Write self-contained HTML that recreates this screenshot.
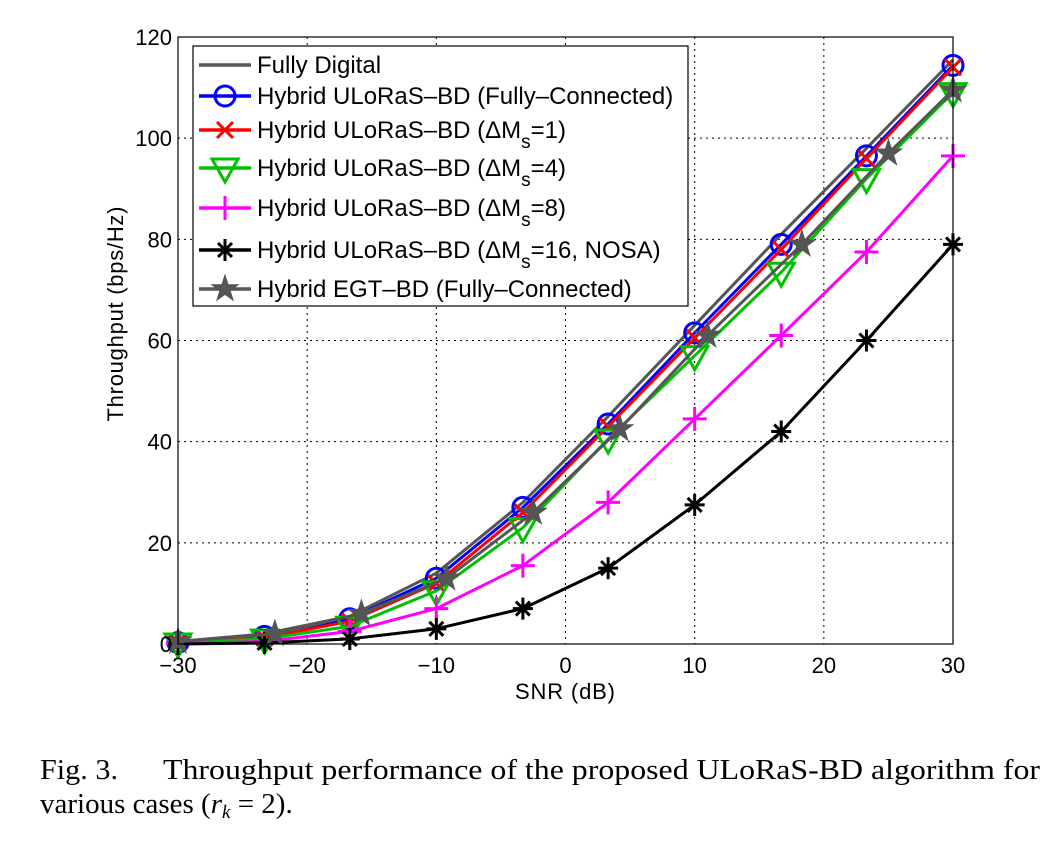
<!DOCTYPE html>
<html><head><meta charset="utf-8"><style>
body{margin:0;background:#fff;width:1054px;height:856px;overflow:hidden}
svg{display:block}
.t{font-family:"Liberation Sans",sans-serif;font-size:22px;fill:#000}
.lg{font-family:"Liberation Sans",sans-serif;font-size:24px;fill:#000}
.cap{font-family:"Liberation Serif",serif;font-size:29px;fill:#000}
</style></head><body>
<svg width="1054" height="856" id="chart" xmlns="http://www.w3.org/2000/svg">
<rect width="1054" height="856" fill="#fff"/>
<g id="grid"></g>
<g id="series"></g>
<rect x="178" y="37" width="775" height="607" fill="none" stroke="#000" stroke-width="1.2"/>
<g id="ticks"></g>
<text class="t" x="565" y="699" text-anchor="middle" font-size="23" textLength="100">SNR (dB)</text>
<text class="t" transform="translate(123,314) rotate(-90)" text-anchor="middle" font-size="23" textLength="215">Throughput (bps/Hz)</text>
<g id="legend"></g>
<text class="cap" x="40" y="779" textLength="78" lengthAdjust="spacingAndGlyphs">Fig. 3.</text>
<text class="cap" x="163" y="779" textLength="877" lengthAdjust="spacingAndGlyphs">Throughput performance of the proposed ULoRaS-BD algorithm for</text>
<text class="cap" x="40" y="813" font-size="28">various cases (<tspan font-style="italic">r</tspan><tspan font-style="italic" font-size="19" dy="5">k</tspan><tspan dy="-5"> = 2).</tspan></text>
</svg>
<script>
const snr=[-30,-23.3,-16.7,-10,-3.3,3.3,10,16.7,23.3,30];
const snrEgt=[-30,-22.5,-15.8,-9.2,-2.5,4.2,11,18.3,25,30];
const fullyDigital=[0.5,2,5.5,14,28,45,63,81,98,115.5];
const hybridFC=[0.3,1.5,5,13,27,43.5,61.5,79,96.5,114.4];
const dm1=[0.3,1.2,4.5,12,26,43,60.5,78,96,114];
const dm4=[0.2,1,3.5,10.5,23,40.5,57,73.5,92,109];
const dm8=[0.1,0.5,2.5,7,15.5,28,44.5,61,77.5,96.5];
const dm16=[0,0.2,1,3,7,15,27.5,42,60,79];
const egt=[0.5,2,6,13,26,42.5,61,79,97,109.5];
const xTicks=[-30,-20,-10,0,10,20,30];
const yTicks=[0,20,40,60,80,100,120];
const legendLabels=["Fully Digital","Hybrid ULoRaS\u2013BD (Fully\u2013Connected)","Hybrid ULoRaS\u2013BD (\u0394M|=1)","Hybrid ULoRaS\u2013BD (\u0394M|=4)","Hybrid ULoRaS\u2013BD (\u0394M|=8)","Hybrid ULoRaS\u2013BD (\u0394M|=16, NOSA)","Hybrid EGT\u2013BD (Fully\u2013Connected)"];

const NS="http://www.w3.org/2000/svg";
const X=v=>178+(v+30)/60*775;
const Y=v=>644-v/120*607;
function mk(tag,attrs,parent){const e=document.createElementNS(NS,tag);for(const k in attrs)e.setAttribute(k,attrs[k]);parent.appendChild(e);return e;}
const grid=document.getElementById('grid'),ticks=document.getElementById('ticks'),ser=document.getElementById('series'),leg=document.getElementById('legend');
xTicks.forEach(v=>{
 if(v>-30&&v<30){const l=mk('line',{x1:X(v),x2:X(v),y1:37,y2:644,stroke:'#000','stroke-dasharray':'2,4','stroke-width':1},grid);
 
 }
 const t=mk('text',{x:X(v),y:673,'text-anchor':'middle',class:'t'},ticks);t.textContent=v<0?'\u2212'+(-v):v;
 
 
});
yTicks.forEach(v=>{
 if(v>0&&v<120){const l=mk('line',{x1:178,x2:953,y1:Y(v),y2:Y(v),stroke:'#000','stroke-dasharray':'2,4','stroke-width':1},grid);
 
 }
 const t=mk('text',{x:172,y:Y(v)+8,'text-anchor':'end',class:'t'},ticks);t.textContent=v;
 
 
});
function marker(type,cx,cy,col,g){
 const s={stroke:col,'stroke-width':3,fill:'none'};
 if(type==='o')mk('circle',Object.assign({cx,cy,r:10},s),g);
 if(type==='x'){mk('path',Object.assign({d:`M${cx-8} ${cy-8}L${cx+8} ${cy+8}M${cx-8} ${cy+8}L${cx+8} ${cy-8}`},s),g);}
 if(type==='v')mk('path',Object.assign({d:`M${cx-13} ${cy-9}L${cx+13} ${cy-9}L${cx} ${cy+14}Z`},s),g);
 if(type==='+')mk('path',Object.assign({d:`M${cx-12} ${cy}L${cx+12} ${cy}M${cx} ${cy-12}L${cx} ${cy+12}`},s),g);
 if(type==='*')mk('path',Object.assign({d:`M${cx-10} ${cy}L${cx+10} ${cy}M${cx} ${cy-11}L${cx} ${cy+11}M${cx-7} ${cy-7}L${cx+7} ${cy+7}M${cx-7} ${cy+7}L${cx+7} ${cy-7}`},s),g);
 if(type==='s'){let p='';for(let i=0;i<10;i++){const r=i%2?5:13,a=-Math.PI/2+i*Math.PI/5;p+=(i?'L':'M')+(cx+r*Math.cos(a)).toFixed(1)+' '+(cy+r*Math.sin(a)).toFixed(1);}mk('path',{d:p+'Z',fill:col,stroke:col,'stroke-width':1.5},g);}
}
const defs=[
 {xs:snr,ys:fullyDigital,c:'#555555',m:null,n:'fully-digital'},
 {xs:snr,ys:hybridFC,c:'#0000ff',m:'o',n:'hybrid-fully-connected'},
 {xs:snr,ys:dm1,c:'#ff0000',m:'x',n:'hybrid-dm1'},
 {xs:snr,ys:dm4,c:'#00c000',m:'v',n:'hybrid-dm4'},
 {xs:snr,ys:dm8,c:'#ff00ff',m:'+',n:'hybrid-dm8'},
 {xs:snr,ys:dm16,c:'#000000',m:'*',n:'hybrid-dm16-nosa'},
 {xs:snrEgt,ys:egt,c:'#555555',m:'s',n:'hybrid-egt'}];
defs.forEach(d=>{
 const g=mk('g',{},ser);
 
 
 const pts=d.xs.map((x,i)=>X(x).toFixed(1)+','+Y(d.ys[i]).toFixed(1)).join(' ');
 mk('polyline',{points:pts,fill:'none',stroke:d.c,'stroke-width':3,'stroke-linejoin':'round'},g);
 if(d.m)d.xs.forEach((x,i)=>marker(d.m,X(x),Y(d.ys[i]),d.c,g));
});
const box=mk('rect',{x:193,y:46,width:495,height:260,fill:'#fff',stroke:'#000','stroke-width':1.2},leg);


const ly=[65,96,130,168,208,250,289];
defs.forEach((d,i)=>{
 const g=mk('g',{},leg);
 
 
 mk('line',{x1:199,x2:251,y1:ly[i],y2:ly[i],stroke:d.c,'stroke-width':3.5},g);
 if(d.m)marker(d.m,225,ly[i],d.c,g);
 const t=mk('text',{x:257,y:ly[i]+8,class:'lg'},g);
 const parts=legendLabels[i].split('|');
 t.appendChild(document.createTextNode(parts[0]));
 if(parts[1]){const s=mk('tspan',{dy:10,'font-size':19},t);s.textContent='s';const r=mk('tspan',{dy:-10},t);r.textContent=parts[1];}
});
</script>
</body></html>
